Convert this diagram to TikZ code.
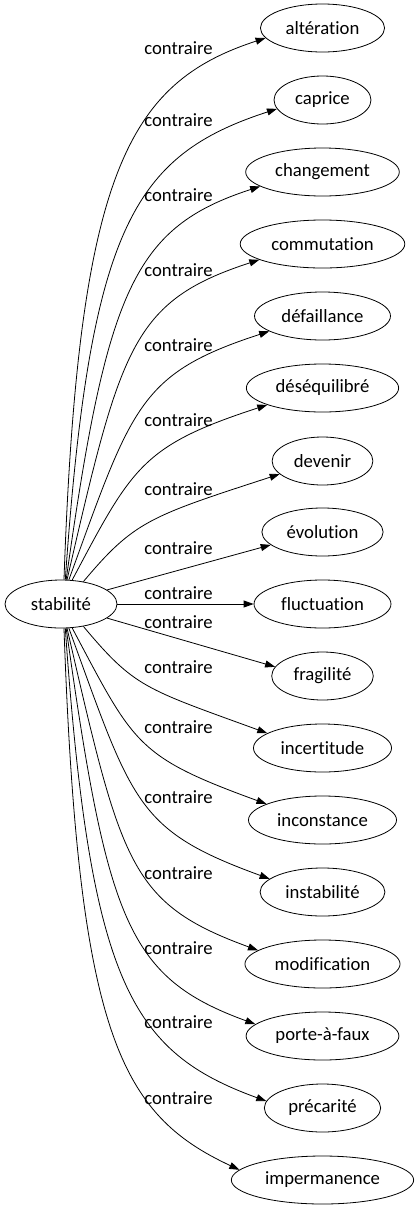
\documentclass[tikz,border=0pt]{standalone}
\usepackage{fontspec}
\setmainfont{Carlito}[Ligatures={NoCommon,NoContextual}]
\usetikzlibrary{arrows.meta,shapes.geometric}
\tikzset{
  term/.style={
    ellipse,
    draw=black,
    line width=0.8pt,
    minimum height=48pt,
    inner xsep=7pt,
    inner ysep=0pt,
    font=\fontsize{18.7}{22}\selectfont
  },
  rel/.style={
    font=\fontsize{18.7}{22}\selectfont,
    inner sep=0pt
  },
  edge/.style={
    -{Triangle[length=10pt,width=7pt]},
    line width=0.8pt,
    draw=black
  }
}

\begin{document}
\begin{tikzpicture}[x=1pt,y=1pt]
\useasboundingbox (0,0) rectangle (419,-1211);
% source
\node[term, minimum width=112pt] (stab) at (61,-604) {stabilité};
% targets
\node[term] (alteration) at (322.5,-28) {altération};
\node[term] (caprice) at (322.5,-100) {caprice};
\node[term] (changement) at (322.5,-172) {changement};
\node[term] (commutation) at (322.5,-244) {commutation};
\node[term] (defaillance) at (322.5,-316) {défaillance};
\node[term] (desequilibre) at (322.5,-388) {déséquilibré};
\node[term] (devenir) at (322.5,-461) {devenir};
\node[term] (evolution) at (322.5,-532) {évolution};
\node[term] (fluctuation) at (322.5,-604) {fluctuation};
\node[term] (fragilite) at (322.5,-676) {fragilité};
\node[term] (incertitude) at (322.5,-748) {incertitude};
\node[term] (inconstance) at (322.5,-820) {inconstance};
\node[term] (instabilite) at (322.5,-892) {instabilité};
\node[term] (modification) at (322.5,-964) {modification};
\node[term] (portafaux) at (322.5,-1036) {porte-à-faux};
\node[term] (precarite) at (322.5,-1108) {précarité};
\node[term] (impermanence) at (322.5,-1180) {impermanence};
% edge labels
\node[rel] (r1) at (178.5,-48) {contraire};
\node[rel] (r2) at (178.5,-120) {contraire};
\node[rel] (r3) at (178.5,-195) {contraire};
\node[rel] (r4) at (178.5,-270) {contraire};
\node[rel] (r5) at (178.5,-345) {contraire};
\node[rel] (r6) at (178.5,-420) {contraire};
\node[rel] (r7) at (178.5,-489) {contraire};
\node[rel] (r8) at (178.5,-548) {contraire};
\node[rel] (r9) at (178.5,-593) {contraire};
\node[rel] (r10) at (178.5,-622) {contraire};
\node[rel] (r11) at (178.5,-667) {contraire};
\node[rel] (r12) at (178.5,-727) {contraire};
\node[rel] (r13) at (178.5,-797) {contraire};
\node[rel] (r14) at (178.5,-873) {contraire};
\node[rel] (r15) at (178.5,-948) {contraire};
\node[rel] (r16) at (178.5,-1022) {contraire};
\node[rel] (r17) at (178.5,-1098) {contraire};
% upper edges
\draw[edge] (stab.83) .. controls +(88:407) and +(198:145) .. (alteration.190);
\draw[edge] (stab.80) .. controls +(86:353) and +(198:151) .. (caprice.191);
\draw[edge] (stab.78) .. controls +(82:293) and +(198:133) .. (changement.193);
\draw[edge] (stab.76) .. controls +(77:239) and +(198:134) .. (commutation.194);
\draw[edge] (stab.72) .. controls +(70:185) and +(198:137) .. (defaillance.196);
\draw[edge] (stab.65) .. controls +(62:128) and +(198:132) .. (desequilibre.197);
\draw[edge] (stab.45) .. controls +(50:79) and +(198:137) .. (devenir.197);
\draw[edge] (stab.17) -- (evolution.194);
\draw[edge] (stab.east) -- (fluctuation.west);
% lower edges
\draw[edge] (stab.-17) -- (fragilite.169);
\draw[edge] (stab.-45) .. controls +(-50:80) and +(160:131) .. (incertitude.165);
\draw[edge] (stab.-65) .. controls +(-62:132) and +(160:139) .. (inconstance.164);
\draw[edge] (stab.-72) .. controls +(-70:187) and +(160:142) .. (instabilite.166);
\draw[edge] (stab.-76) .. controls +(-77:242) and +(160:137) .. (modification.168);
\draw[edge] (stab.-78) .. controls +(-82:296) and +(160:136) .. (portafaux.170);
\draw[edge] (stab.-80) .. controls +(-86:356) and +(160:144) .. (precarite.173);
\draw[edge] (stab.-83) .. controls +(-88:407) and +(155:131) .. (impermanence.173);
\end{tikzpicture}
\end{document}
